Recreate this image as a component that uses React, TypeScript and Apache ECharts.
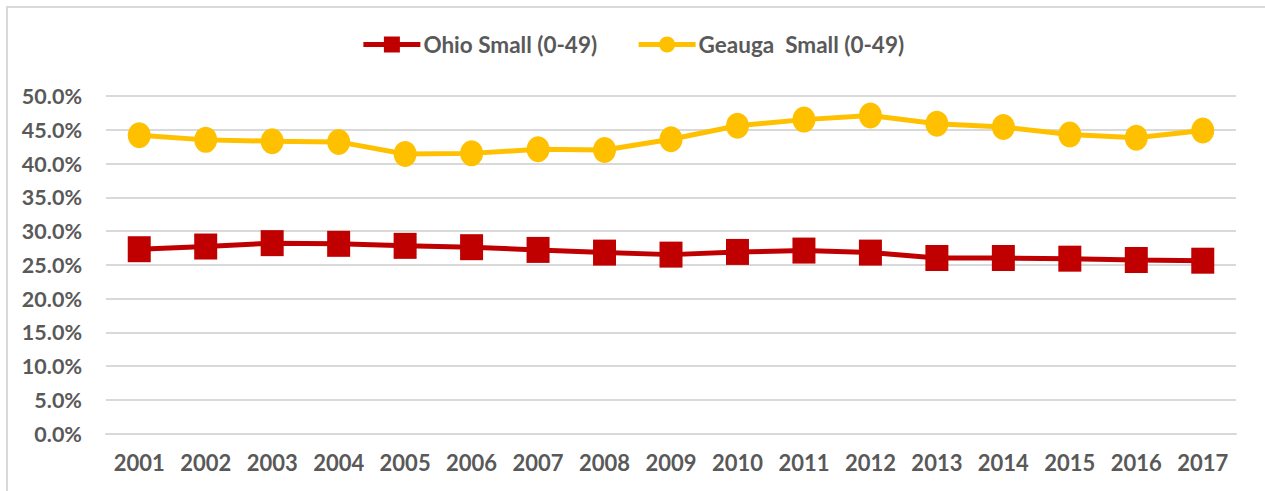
import React, { useEffect, useRef } from "react";
import * as echarts from "echarts";

const years = ["2001","2002","2003","2004","2005","2006","2007","2008","2009","2010","2011","2012","2013","2014","2015","2016","2017"];
const ohioSmall = [27.3,27.7,28.2,28.1,27.8,27.6,27.2,26.8,26.5,26.9,27.1,26.8,26.0,26.0,25.9,25.7,25.6];
const geaugaSmall = [44.2,43.5,43.3,43.2,41.4,41.5,42.1,42.0,43.6,45.6,46.5,47.1,45.9,45.4,44.3,43.8,44.9];
const seriesNames = ["Ohio Small (0-49)", "Geauga  Small (0-49)"];

const FONT = "Lato";
const GRAY = "#595959";

export default function App() {
  const ref = useRef<HTMLDivElement>(null);
  useEffect(() => {
    if (!ref.current) return;
    const chart = echarts.init(ref.current, undefined, { renderer: "svg" });
    chart.setOption({
      animation: false,
      backgroundColor: "#ffffff",
      textStyle: { fontFamily: FONT },
      graphic: [
        {
          type: "rect",
          shape: { x: 7, y: 7, width: 1300, height: 520 },
          style: { fill: "none", stroke: "#d9d9d9", lineWidth: 2 },
          silent: true,
        },
      ],
      legend: {
        top: 28,
        left: "center",
        itemWidth: 57,
        itemHeight: 20,
        itemGap: 39,
        lineStyle: { width: 5 },
        textStyle: { fontFamily: FONT, fontWeight: "bold", fontSize: 22.5, color: GRAY, padding: [0, 0, 0, -2] },
        data: seriesNames,
      },
      grid: { left: 106, right: 29, top: 96, bottom: 57.5, containLabel: false },
      xAxis: {
        type: "category",
        data: years,
        boundaryGap: true,
        axisLine: { show: true, lineStyle: { color: "#d9d9d9", width: 2 } },
        axisTick: { show: false },
        axisLabel: { color: GRAY, fontFamily: FONT, fontWeight: "bold", fontSize: 22, margin: 18 },
      },
      yAxis: {
        type: "value",
        min: 0,
        max: 50,
        interval: 5,
        axisLine: { show: false },
        axisTick: { show: false },
        splitLine: { lineStyle: { color: "#d9d9d9", width: 2 } },
        axisLabel: {
          color: GRAY,
          fontFamily: FONT,
          fontWeight: "bold",
          fontSize: 21.5,
          margin: 24,
          formatter: (v: number) => v.toFixed(1) + "%",
        },
      },
      series: [
        {
          name: seriesNames[0],
          type: "line",
          data: ohioSmall,
          symbol: "rect",
          symbolSize: [23, 26],
          lineStyle: { color: "#C00000", width: 5 },
          itemStyle: { color: "#C00000" },
          z: 3,
        },
        {
          name: seriesNames[1],
          type: "line",
          data: geaugaSmall,
          symbol: "circle",
          symbolSize: [23, 26],
          lineStyle: { color: "#FFC000", width: 5 },
          itemStyle: { color: "#FFC000" },
          z: 3,
        },
      ],
    });
    return () => chart.dispose();
  }, []);
  return (
    <div style={{ position: "fixed", left: 0, top: 0, width: 1265, height: 491 }}>
      <div ref={ref} style={{ width: 1265, height: 491 }} />
    </div>
  );
}
